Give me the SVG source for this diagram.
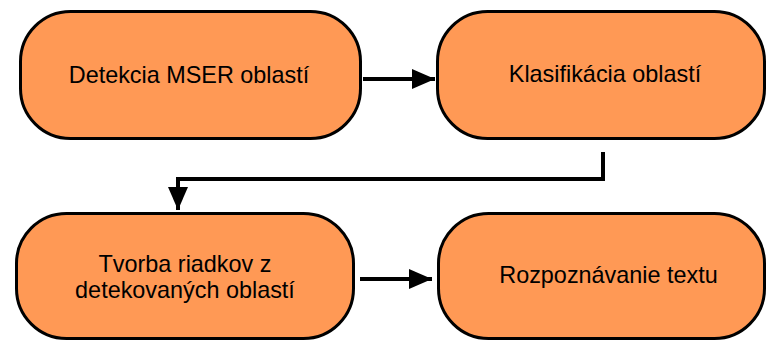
<svg xmlns="http://www.w3.org/2000/svg" width="766" height="341" viewBox="0 0 766 341">
  <style>
    .box { fill: #ff9955; stroke: #000; stroke-width: 3; }
    .lbl { font-family: "Liberation Sans", Arial, sans-serif; font-size: 23.4px; fill: #000; text-anchor: middle; }
    .edge { fill: none; stroke: #000; stroke-width: 4; }
  </style>
  <defs>
    <marker id="arrow" markerUnits="userSpaceOnUse" markerWidth="24" markerHeight="22" refX="23" refY="11" orient="auto">
      <path d="M0,1 L23,11 L0,21 Z" fill="#000"/>
    </marker>
  </defs>

  <g id="node-mser">
    <rect class="box" x="20.5" y="11.5" width="340" height="127" rx="50" ry="50"/>
    <text class="lbl" x="189" y="83">Detekcia MSER oblastí</text>
  </g>

  <g id="node-klasifikacia">
    <rect class="box" x="437.5" y="11.5" width="327" height="127" rx="50" ry="50"/>
    <text class="lbl" x="605" y="82">Klasifikácia oblastí</text>
  </g>

  <g id="node-riadky">
    <rect class="box" x="16.5" y="213.5" width="337" height="125" rx="50" ry="50"/>
    <text class="lbl" x="185" y="271.5">Tvorba riadkov z</text>
    <text class="lbl" x="185" y="298">detekovaných oblastí</text>
  </g>

  <g id="node-rozpoznavanie">
    <rect class="box" x="438.5" y="213.5" width="326" height="125" rx="50" ry="50"/>
    <text class="lbl" x="608.5" y="283">Rozpoznávanie textu</text>
  </g>

  <g id="connectors">
    <line class="edge" x1="363" y1="79" x2="435" y2="79" marker-end="url(#arrow)"/>
    <path class="edge" d="M603,152 V179 H178 V210" marker-end="url(#arrow)"/>
    <line class="edge" x1="360" y1="279" x2="432" y2="279" marker-end="url(#arrow)"/>
  </g>
</svg>
